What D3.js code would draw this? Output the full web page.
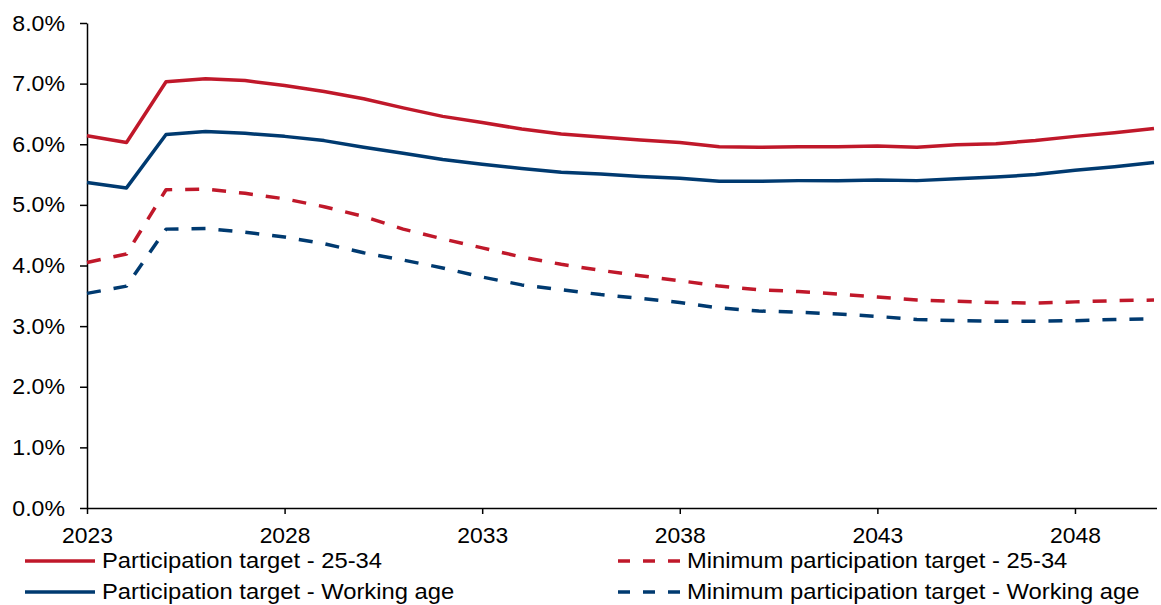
<!DOCTYPE html>
<html>
<head>
<meta charset="utf-8">
<script src="https://cdn.jsdelivr.net/npm/d3@7"></script>
<style>
  body { margin: 0; background: #fff; }
  text { font-family: "Liberation Sans", Arial, sans-serif; fill: #000; }
</style>
</head>
<body>
<div id="chart"></div>
<script>
const years = [2023, 2024, 2025, 2026, 2027, 2028, 2029, 2030, 2031, 2032, 2033, 2034, 2035, 2036,
               2037, 2038, 2039, 2040, 2041, 2042, 2043, 2044, 2045, 2046, 2047, 2048, 2049, 2050];

const target2534 = [6.14, 6.03, 7.03, 7.08, 7.05, 6.97, 6.87, 6.75, 6.60, 6.46, 6.36, 6.25, 6.17, 6.12,
                    6.07, 6.03, 5.96, 5.95, 5.96, 5.96, 5.97, 5.95, 5.99, 6.01, 6.06, 6.13, 6.19, 6.26];
const targetWorking = [5.37, 5.28, 6.16, 6.21, 6.18, 6.13, 6.06, 5.95, 5.85, 5.75, 5.67, 5.60, 5.54, 5.51,
                       5.47, 5.44, 5.39, 5.39, 5.40, 5.40, 5.41, 5.40, 5.43, 5.46, 5.50, 5.57, 5.63, 5.70];
const minTarget2534 = [4.05, 4.19, 5.25, 5.26, 5.19, 5.10, 4.97, 4.81, 4.60, 4.44, 4.29, 4.14, 4.02, 3.92,
                       3.83, 3.75, 3.66, 3.60, 3.57, 3.53, 3.48, 3.43, 3.41, 3.39, 3.38, 3.40, 3.42, 3.43];
const minTargetWorking = [3.54, 3.66, 4.60, 4.61, 4.55, 4.47, 4.36, 4.21, 4.09, 3.96, 3.81, 3.68, 3.60, 3.52,
                          3.46, 3.39, 3.30, 3.25, 3.23, 3.20, 3.16, 3.11, 3.09, 3.08, 3.08, 3.09, 3.11, 3.12];

const xTicks = [2023, 2028, 2033, 2038, 2043, 2048];
const yTicks = [0, 1, 2, 3, 4, 5, 6, 7, 8];

const series = [
  { name: "Participation target - 25-34", values: target2534, color: "#c0182a", dash: null },
  { name: "Minimum participation target - 25-34", values: minTarget2534, color: "#c0182a", dash: "14,13" },
  { name: "Participation target - Working age", values: targetWorking, color: "#003a70", dash: null },
  { name: "Minimum participation target - Working age", values: minTargetWorking, color: "#003a70", dash: "14,13" }
];

const width = 1161, height = 605;
const svg = d3.select("#chart").append("svg")
  .attr("width", width)
  .attr("height", height);

const x = d3.scaleLinear().domain([2023, 2050]).range([87, 1154]);
const y = d3.scaleLinear().domain([0, 8]).range([508, 23]);

// the source picture is a little wider than tall, so stretch text sideways
function stretch(sel, k) {
  sel.each(function() {
    const w = this.getComputedTextLength();
    d3.select(this)
      .attr("textLength", w * k)
      .attr("lengthAdjust", "spacingAndGlyphs");
  });
}

// y axis
const yAxis = svg.append("g")
  .attr("transform", "translate(87,0)")
  .call(d3.axisLeft(y).tickValues(yTicks).tickSize(7).tickSizeOuter(0)
    .tickFormat(d => d.toFixed(1) + "%"));
yAxis.select(".domain").attr("stroke", "#000").attr("stroke-width", 1.5);
yAxis.selectAll(".tick line").attr("stroke", "#000").attr("stroke-width", 1.5);
yAxis.selectAll(".tick text")
  .attr("x", -22)
  .style("font-size", "22px")
  .call(stretch, 1.05);

// x axis
const xAxis = svg.append("g")
  .attr("transform", "translate(0,508)")
  .call(d3.axisBottom(x).tickValues(xTicks).tickSize(6).tickSizeOuter(0)
    .tickFormat(d3.format("d")));
xAxis.select(".domain").attr("stroke", "#000").attr("stroke-width", 1.5)
  .attr("d", "M87,0.5H1157");
xAxis.selectAll(".tick line").attr("stroke", "#000").attr("stroke-width", 1.5);
xAxis.selectAll(".tick text")
  .attr("y", 19)
  .style("font-size", "22px")
  .call(stretch, 1.04);

// lines
const line = d3.line()
  .x((d, i) => x(years[i]))
  .y(d => y(d));

svg.append("g")
  .selectAll("path.series")
  .data(series)
  .enter().append("path")
    .attr("class", "series")
    .attr("fill", "none")
    .attr("stroke", d => d.color)
    .attr("stroke-width", 3.5)
    .attr("stroke-dasharray", d => d.dash)
    .attr("stroke-linejoin", "round")
    .attr("d", d => line(d.values));

// legend
const legendPos = [
  { lx: 25, ty: 561 },
  { lx: 618, ty: 561 },
  { lx: 25, ty: 592 },
  { lx: 618, ty: 592 }
];

const legend = svg.append("g")
  .selectAll("g.item")
  .data(series)
  .enter().append("g")
    .attr("class", "item")
    .attr("transform", (d, i) => `translate(${legendPos[i].lx},${legendPos[i].ty})`);

legend.append("line")
  .attr("x1", 0).attr("x2", d => d.dash ? 63 : 70)
  .attr("y1", 0).attr("y2", 0)
  .attr("stroke", d => d.color)
  .attr("stroke-width", 3.5)
  .attr("stroke-dasharray", d => d.dash ? "12,13" : null);

legend.append("text")
  .attr("x", d => d.dash ? 69 : 77)
  .attr("y", 7)
  .style("font-size", "22px")
  .text(d => d.name)
  .call(stretch, 1.08);
</script>
</body>
</html>
